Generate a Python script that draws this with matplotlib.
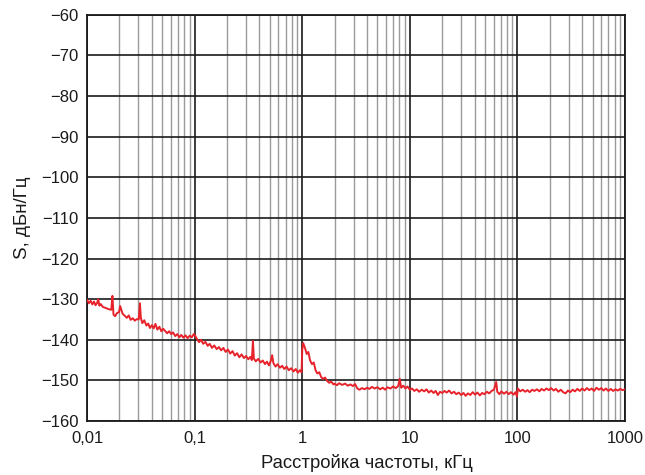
import matplotlib
matplotlib.use("Agg")
import matplotlib.pyplot as plt
from matplotlib.ticker import FixedLocator, NullFormatter

plt.rcParams['font.family'] = ['Liberation Sans', 'DejaVu Sans']

# phase noise spectrum: offset frequency (kHz) and level (dBc/Hz)
freq_khz = [
    0.0100, 0.0104, 0.0108, 0.0112, 0.0116, 0.0120, 0.0124, 0.0127, 0.0130, 0.0134,
    0.0140, 0.0150, 0.0160, 0.0168, 0.0172, 0.0176, 0.0182, 0.0190, 0.0198, 0.0203,
    0.0214, 0.0224, 0.0234, 0.0244, 0.0254, 0.0266, 0.0278, 0.0290, 0.0302, 0.0310,
    0.0316, 0.0326, 0.0340, 0.0356, 0.0370, 0.0384, 0.0400, 0.0416, 0.0432, 0.0450,
    0.0470, 0.0490, 0.0510, 0.0530, 0.0555, 0.0580, 0.0605, 0.0630, 0.0660, 0.0690,
    0.0720, 0.0750, 0.0785, 0.0820, 0.0860, 0.0900, 0.0940, 0.0980, 0.1000,
    0.105, 0.110, 0.115, 0.120, 0.126, 0.132, 0.138, 0.145, 0.152, 0.160,
    0.168, 0.176, 0.185, 0.194, 0.204, 0.214, 0.225, 0.236, 0.248, 0.260,
    0.273, 0.287, 0.300, 0.315, 0.330, 0.340, 0.348, 0.355, 0.370, 0.390,
    0.410, 0.430, 0.450, 0.470, 0.490, 0.510, 0.525, 0.540, 0.565, 0.590,
    0.620, 0.650, 0.680, 0.715, 0.750, 0.790, 0.830, 0.870, 0.910, 0.950,
    0.985, 1.000, 1.02, 1.06, 1.10, 1.14, 1.18, 1.23, 1.28, 1.33,
    1.38, 1.44, 1.50, 1.56, 1.63, 1.70, 1.78, 1.86, 1.95,
    2.0, 2.1, 2.2, 2.35, 2.5, 2.65, 2.8, 2.95, 3.1, 3.25,
    3.4, 3.6, 3.8, 4.0, 4.2, 4.45, 4.7, 5.0, 5.3, 5.6,
    5.9, 6.2, 6.6, 7.0, 7.4, 7.8, 8.05, 8.3, 8.7, 9.1,
    9.5, 10.0,
    10.5, 11.0, 11.6, 12.2, 12.9, 13.6, 14.3, 15.0, 15.8, 16.6,
    17.4, 18.2, 19.1, 20.0, 21.0, 22.0, 23.2, 24.4, 25.7, 27.0,
    28.4, 30.0, 31.5, 33.0, 34.7, 36.5, 38.4, 40.4, 42.5, 44.7,
    47.0, 49.4, 52.0, 54.7, 57.5, 60.5, 63.5, 65.0, 68.0, 71.0,
    75.0, 79.0, 83.0, 87.0, 92.0, 96.0, 99.0, 101.0,
    106, 112, 118, 124, 130, 137, 144, 152, 160, 168,
    177, 186, 196, 206, 217, 228, 240, 253, 266, 280,
    295, 310, 326, 343, 361, 380, 400, 421, 443, 466,
    490, 516, 543, 571, 601, 632, 665, 700, 737, 775,
    816, 858, 903, 950, 1000,
]
level_db = [
    -130.2, -131.0, -130.4, -131.3, -130.6, -131.5, -130.9, -130.0, -131.6, -131.2,
    -131.9, -132.2, -132.5, -132.6, -129.2, -133.8, -134.2, -133.4, -133.2, -131.7,
    -133.6, -134.1, -134.6, -134.0, -135.1, -134.7, -135.3, -134.9, -135.0, -131.0,
    -134.6, -135.9, -135.2, -136.5, -136.0, -137.1, -136.4, -137.2, -136.1, -137.5,
    -136.8, -137.9, -137.3, -137.8, -138.4, -137.9, -138.6, -138.2, -139.1, -138.6,
    -139.4, -138.8, -139.5, -138.9, -139.6, -139.0, -139.4, -138.6, -138.8,
    -139.8, -140.6, -140.0, -141.0, -140.5, -141.5, -141.0, -142.0, -141.4, -142.3,
    -141.8, -142.6, -142.0, -143.0, -142.4, -143.4, -142.8, -143.9, -143.3, -144.3,
    -143.6, -144.5, -144.0, -144.8, -144.2, -145.0, -140.3, -144.6, -145.3, -144.7,
    -145.6, -145.1, -146.0, -145.4, -146.3, -145.2, -143.8, -145.8, -146.6, -146.0,
    -146.9, -146.4, -147.2, -146.6, -147.5, -147.0, -147.8, -147.2, -148.1, -147.5,
    -148.0, -142.5, -140.8, -142.0, -143.5, -143.0, -145.0, -146.0, -145.6, -147.5,
    -148.3, -148.0, -149.2, -149.6, -149.3, -150.1, -150.6, -150.3, -151.0,
    -150.8, -151.2, -150.7, -151.1, -150.8, -151.3, -151.0, -151.4, -150.9, -152.0,
    -152.3, -151.9, -152.2, -151.8, -152.1, -151.6, -152.0, -151.7, -152.2, -151.8,
    -152.3, -151.7, -152.0, -151.5, -151.9, -151.4, -149.6, -151.8, -151.3, -152.0,
    -151.5, -152.3,
    -152.0, -152.6, -152.2, -152.8, -152.3, -152.7, -152.2, -153.0, -152.5, -153.1,
    -152.6, -153.6, -152.8, -153.1, -152.6, -153.0, -152.5, -153.2, -152.8, -153.4,
    -153.0, -153.6, -153.1, -153.8, -153.2, -153.6, -152.9, -153.5, -153.0, -153.7,
    -153.1, -153.4, -152.8, -153.2, -152.6, -152.3, -150.4, -152.8, -153.4, -152.7,
    -153.3, -152.8, -153.4, -152.9, -153.5, -152.9, -154.0, -152.0,
    -152.7, -152.3, -152.8, -152.4, -152.9, -152.3, -152.6, -152.2, -152.7, -152.1,
    -152.5, -152.0, -152.4, -151.9, -152.5, -152.1, -152.8, -152.3, -152.9, -153.2,
    -152.5, -152.9, -152.3, -152.7, -152.1, -152.6, -152.0, -152.5, -151.9, -152.4,
    -152.0, -152.6, -151.8, -152.3, -151.9, -152.5, -152.0, -152.6, -152.1, -152.6,
    -152.2, -152.5, -152.1, -152.4, -152.2,
]

x_ticks = [0.01, 0.1, 1, 10, 100, 1000]
x_labels = ['0,01', '0,1', '1', '10', '100', '1000']
y_ticks = list(range(-160, -59, 10))
y_labels = ['\u2212' + str(abs(v)) for v in y_ticks]

fig = plt.figure(figsize=(6.45, 4.75), dpi=100)
ax = fig.add_axes([0.135, 0.1137, 0.834, 0.855])

ax.set_xscale('log')
ax.set_xlim(0.01, 1000)
ax.set_ylim(-160, -60)

# minor decade lines in gray, decades and 10 dB steps in black
minor = [m * 10.0 ** e for e in range(-2, 3) for m in range(2, 10)]
ax.xaxis.set_major_locator(FixedLocator(x_ticks))
ax.xaxis.set_minor_locator(FixedLocator(minor))
ax.xaxis.set_minor_formatter(NullFormatter())
ax.set_xticks(x_ticks)
ax.set_xticklabels(x_labels)
ax.set_yticks(y_ticks)
ax.set_yticklabels(y_labels)

ax.grid(which='minor', axis='x', color='#9a9a9a', linewidth=1.0)
ax.grid(which='major', axis='both', color='#1a1a1a', linewidth=1.2)
ax.set_axisbelow(True)

ax.plot(freq_khz, level_db, color='#e8222b', linewidth=1.4, zorder=3)

ax.tick_params(which='both', length=0, labelsize=12, colors='#1a1a1a')
ax.tick_params(axis='x', pad=7)
ax.tick_params(axis='y', pad=6)
for s in ax.spines.values():
    s.set_color('#1a1a1a')
    s.set_linewidth(1.3)

ax.set_xlabel('Расстройка частоты, кГц', fontsize=13.3, color='#1a1a1a')
ax.xaxis.set_label_coords(0.52, -0.082)
ax.set_ylabel('S, дБн/Гц', fontsize=13.5, color='#1a1a1a', labelpad=7)

fig.savefig('out.png', dpi=100)
